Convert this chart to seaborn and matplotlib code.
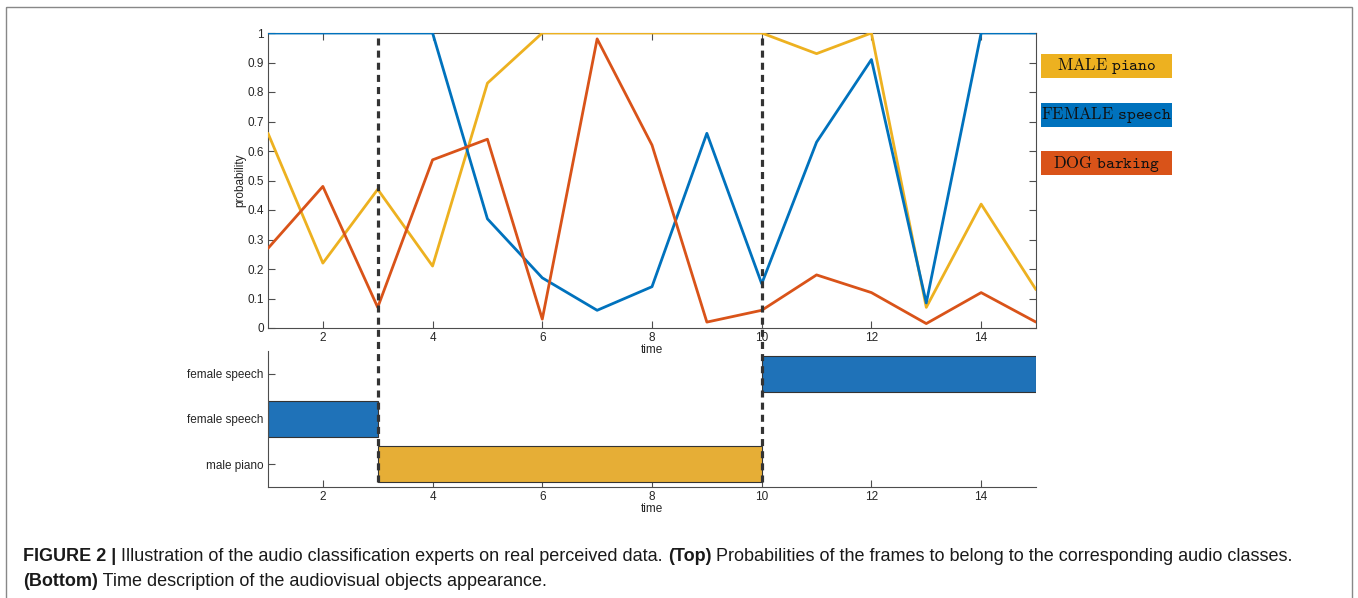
import numpy as np
import pandas as pd
import seaborn as sns
import matplotlib.pyplot as plt
from matplotlib.patches import Rectangle

# Data
time = list(range(1, 16))
male_piano = [0.66, 0.22, 0.47, 0.21, 0.83, 1.0, 1.0, 1.0, 1.0, 1.0, 0.93, 1.0, 0.07, 0.42, 0.13]
female_speech = [1.0, 1.0, 1.0, 1.0, 0.37, 0.17, 0.06, 0.14, 0.66, 0.15, 0.63, 0.91, 0.085, 1.0, 1.0]
dog_barking = [0.27, 0.48, 0.07, 0.57, 0.64, 0.03, 0.98, 0.62, 0.02, 0.06, 0.18, 0.12, 0.015, 0.12, 0.02]

series_names = ['MALE piano', 'FEMALE speech', 'DOG barking']
legend_tex = [r'$\mathrm{MALE}\ \mathtt{piano}$', r'$\mathrm{FEMALE}\ \mathtt{speech}$',
              r'$\mathrm{DOG}\ \mathtt{barking}$']
colors = {'MALE piano': '#EDB120', 'FEMALE speech': '#0072BD', 'DOG barking': '#D95319'}

# bottom panel: segments (start, end, row)
seg_start = [1, 3, 10]
seg_end = [3, 10, 15]
seg_row = [2, 1, 3]
seg_color = ['#1F72B8', '#E6AE36', '#1F72B8']
row_labels = ['male piano', 'female speech', 'female speech']
boundaries = [3, 10]

sns.set_style('ticks')
plt.rcParams['font.family'] = ['Liberation Sans', 'DejaVu Sans']

df = pd.DataFrame({'time': time * 3,
                   'prob': male_piano + female_speech + dog_barking,
                   'cls': np.repeat(series_names, len(time))})

fig = plt.figure(figsize=(13.58, 5.98), dpi=100)
W, H = 1358, 598

def fax(x0, y0, x1, y1):
    return [x0 / W, 1 - y1 / H, (x1 - x0) / W, (y1 - y0) / H]

spine_c = '#4d4d4d'

# bottom panel first so the dashed lines of the top panel sit over it
bx = fig.add_axes(fax(268, 351, 1036, 487))
bx.patch.set_visible(False)
bx.barh(seg_row, [e - s for s, e in zip(seg_start, seg_end)], left=seg_start,
        height=0.8, color=seg_color, edgecolor='#333333', linewidth=0.8)
bx.set_xlim(1, 15)
bx.set_ylim(0.5, 3.5)
bx.set_xticks(range(2, 15, 2))
bx.set_yticks([1, 2, 3])
bx.set_yticklabels(row_labels)
bx.tick_params(direction='in', length=5, width=0.8, labelsize=8.5, color=spine_c, pad=3)
sns.despine(ax=bx)
for s in ['left', 'bottom']:
    bx.spines[s].set_color(spine_c)
    bx.spines[s].set_linewidth(0.8)
bx.set_xlabel('time', fontsize=8.5, labelpad=0)

# top panel
ax = fig.add_axes(fax(268, 33, 1036, 328))
ax.patch.set_visible(False)
sns.lineplot(data=df, x='time', y='prob', hue='cls', palette=colors, ax=ax,
             linewidth=2.0, legend=False, zorder=3)
ax.set_xlim(1, 15)
ax.set_ylim(0, 1)
ax.set_xticks(range(2, 15, 2))
ax.set_yticks(np.round(np.arange(0, 1.01, 0.1), 1))
ax.set_yticklabels(['0', '0.1', '0.2', '0.3', '0.4', '0.5', '0.6', '0.7', '0.8', '0.9', '1'])
ax.tick_params(direction='in', length=5, width=0.8, labelsize=8.5, color=spine_c,
               top=True, right=True, pad=3)
for s in ax.spines.values():
    s.set_color(spine_c)
    s.set_linewidth(0.8)
ax.set_xlabel('time', fontsize=8.5, labelpad=0)
ax.set_ylabel('probability', fontsize=8.5)
ax.xaxis.set_label_coords(0.5, -0.055)
ax.yaxis.set_label_coords(-0.028, 0.5)

for b in boundaries:
    ax.axvline(b, ymin=-0.522, ymax=1, clip_on=False, color='#333333',
               linewidth=2.3, linestyle=(0, (2.2, 1.6)), zorder=5)

# legend boxes
ov = fig.add_axes([0, 0, 1, 1])
ov.set_axis_off()
ov.set_xlim(0, W)
ov.set_ylim(H, 0)
for i, name in enumerate(series_names):
    y0 = 54 + i * 48.5
    ov.add_patch(Rectangle((1041, y0), 131, 24, facecolor=colors[name], edgecolor='none'))
    ov.text(1106.5, y0 + 12.5, legend_tex[i], ha='center', va='center', fontsize=12,
            math_fontfamily='cm', color='#111111')

# frame around figure
ov.add_patch(Rectangle((6, 7), 1346, 620, fill=False, edgecolor='#888888', linewidth=1.0,
                       clip_on=False))

# caption
cap_fs = 13.0
pieces1 = [('FIGURE 2 |', 'bold'),
           (' Illustration of the audio classification experts on real perceived data. ', 'normal'),
           ('(Top)', 'bold'),
           (' Probabilities of the frames to belong to the corresponding audio classes.', 'normal')]
pieces2 = [('(Bottom)', 'bold'), (' Time description of the audiovisual objects appearance.', 'normal')]

for pieces, ybase in [(pieces1, 561), (pieces2, 586)]:
    prev = None
    for txt, wgt in pieces:
        if prev is None:
            prev = ov.text(23, ybase, txt, fontsize=cap_fs, fontweight=wgt, va='baseline',
                           color='#1a1a1a')
        else:
            prev = ov.annotate(txt, xy=(1, 0), xycoords=prev, va='bottom', ha='left',
                               fontsize=cap_fs, fontweight=wgt, color='#1a1a1a')

fig.savefig('out.png', dpi=100)
